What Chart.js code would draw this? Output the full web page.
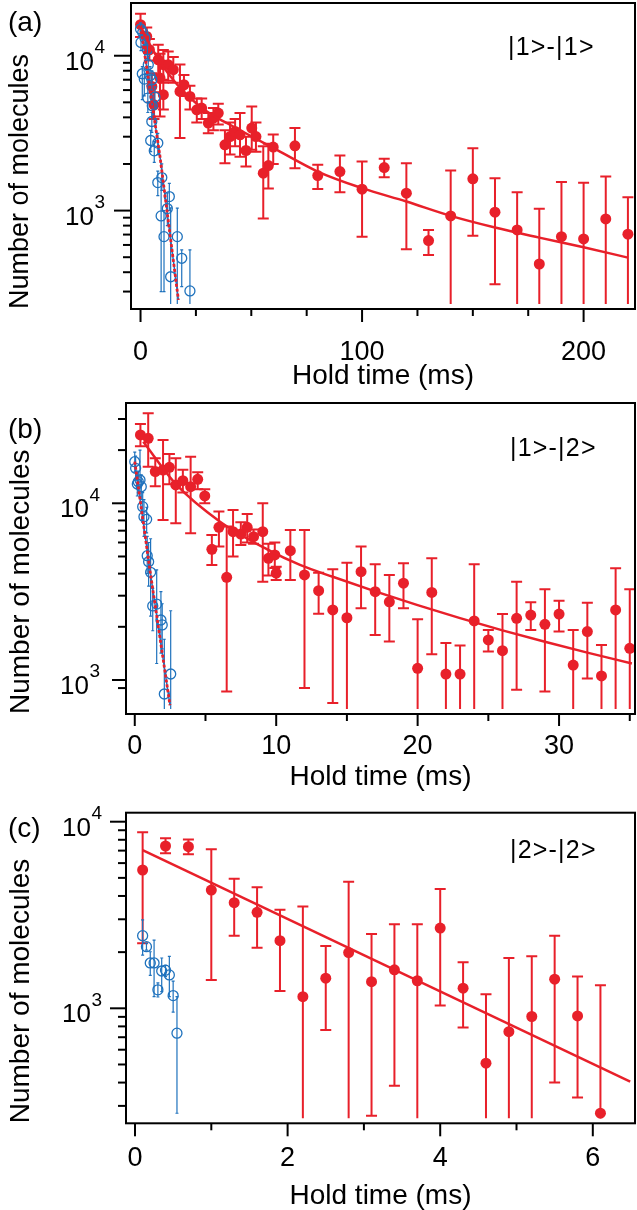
<!DOCTYPE html>
<html><head><meta charset="utf-8">
<script src="https://cdn.jsdelivr.net/npm/chart.js@4.4.1/dist/chart.umd.min.js"></script>
<style>
html,body{margin:0;padding:0;background:#fff;width:637px;height:1210px;overflow:hidden;}
.wrap{position:absolute;left:0;width:637px;}
canvas{display:block;}
.lbl{position:absolute;font-family:"Liberation Sans",Arial,Helvetica,sans-serif;color:#000;white-space:nowrap;line-height:1;}
.pl{font-size:28px;}
.st{font-size:25px;letter-spacing:1.2px;}
</style></head><body>
<div class="wrap" style="top:0;height:400px"><canvas id="ca" width="637" height="400"></canvas></div>
<div class="wrap" style="top:390px;height:405px"><canvas id="cb" width="637" height="405"></canvas></div>
<div class="wrap" style="top:795px;height:415px"><canvas id="cc" width="637" height="415"></canvas></div>
<div class="lbl pl" style="left:8px;top:8px">(a)</div>
<div class="lbl pl" style="left:8px;top:415px">(b)</div>
<div class="lbl pl" style="left:8px;top:814px">(c)</div>
<div class="lbl st" style="left:508px;top:34px">|1&gt;-|1&gt;</div>
<div class="lbl st" style="left:510px;top:435px">|1&gt;-|2&gt;</div>
<div class="lbl st" style="left:510px;top:837px">|2&gt;-|2&gt;</div>
<script>
// ---------------- DATA ----------------
// Panel (a) |1>-|1>
const aRedX  = [0,2.8,4.0,5.1,6.1,8.0,8.8,10.3,10.3,12.5,14.8,17.8,19.6,22.3,25.4,27.6,30.6,32.9,35.1,38.1,40.4,42.7,44.9,47.6,50.2,52.1,55.4,57.7,59.9,69.7,80,90,100,110,120,130,140,150,160,170,180,190,200,210,220];
const aRedY  = [15865,13330,10930,6330,4820,9420,7175,8750,5600,8750,8120,5880,6495,5455,4477,4592,3672,3957,4263,2660,3007,3241,3085,2443,3409,3007,1745,1954,2570,2620,1683,1787,1375,1897,1296,640,924,1603,977,750,452,679,656,884,704];
const aRedLo = [13200,11500,9300,5000,3900,7500,4055,7000,4500,6900,6700,2940,5500,4500,3700,3900,3160,3300,3600,2020,2300,2600,2230,1929,2470,2400,890,1390,2000,1880,1380,1315,679,1644,563,517,null,689,334,null,null,null,null,null,null];
const aRedHi = [18690,15200,12800,7700,5800,11780,10300,10880,6700,10660,9800,8790,7500,6400,5300,5300,4260,4600,4900,3300,3700,3900,4263,3000,4700,3700,2600,2700,3100,3416,1975,2268,2075,2160,2025,750,1815,2530,1620,1315,1026,1527,1510,1660,1221];
const aBlueX  = [0,0.2,0.8,1.0,1.7,2.0,3.1,3.3,3.5,4.3,4.6,5.1,5.1,5.3,6.2,6.5,7.8,7.8,9.3,9.6,10.6,12.1,13.0,13.6,16.6,18.6,22.3];
const aBlueY  = [14880,12190,7648,14140,7068,13010,10930,5330,8745,7425,2835,6997,3761,4750,2432,5408,2727,1517,924,1634,679,1030,1232,374,679,492,303];
const aBlueLo = [13500,10800,5200,12800,5500,11800,9600,4300,7600,6400,2400,6000,3200,4000,2050,4600,2300,1250,300,1350,300,800,1000,null,null,323,null];
const aBlueHi = [16300,13600,8500,15500,8000,14300,12200,6400,9900,8500,3300,8000,4300,5500,2800,6300,3150,1800,1580,2000,1000,1300,1500,1040,1036,557,557];
const aFitX = [0,5,10,15,20,25,30,35,41.9,50,59.9,80,100,120,140,160,180,200,220];
const aFitY = [15490,11220,8610,6920,5750,4955,4365,3936,3491,3020,2541,1786,1396,1144,924,777,669,580,497];
const aDotX = [0,8.8,17.1];
const aDotY = [15500,2230,265];
const aXMajor = [0,100,200];
const aXMinor = [25,50,75,125,150,175];
const aYMajor = [1000,10000];
const aYMinor = [300,400,500,600,700,800,900,2000,3000,4000,5000,6000,7000,8000,9000];

// Panel (b) |1>-|2>
const bRedX  = [0.4,0.95,1.45,2.0,2.45,2.9,3.4,3.95,4.45,4.95,5.45,5.95,6.5,6.95,7.5,7.95,8.4,9.05,9.45,9.9,10.0,11,12,13,14,15,16,17,18,19,20,21,22,23,24,25,26,27,28,29,30,31,32,33,34,35];
const bRedY  = [24360,23330,15110,15430,15990,12700,13420,12420,13670,11000,5490,7310,3810,6910,6700,7310,6470,6910,4880,5100,4020,5390,3930,3200,2490,2250,4100,3160,2770,3530,1165,3130,1080,1080,2160,1685,1466,2235,2330,2065,2360,1215,1880,1054,2490,1510];
const bRedLo = [21000,16100,12500,8050,12800,7700,11500,6770,12000,10000,4480,5700,860,5000,5800,6000,5900,3600,3900,4300,3680,3680,900,2370,740,null,2550,1800,1650,2550,null,1400,null,null,null,1450,null,880,1920,860,1880,null,1020,null,null,null];
const bRedHi = [28100,32300,18000,22800,19000,17970,15500,18350,15000,12000,6620,9000,7380,9170,7800,8700,7100,10000,5900,6000,4380,7070,7070,4050,4230,4610,5690,4520,3930,4580,2210,4890,1620,1570,4520,1920,2360,3600,2750,3265,2810,1920,2740,1580,4290,3265];
const bBlueX  = [0,0.06,0.18,0.25,0.37,0.46,0.56,0.65,0.84,0.88,0.98,1.12,1.27,1.55,1.85,1.94,2.09,2.54];
const bBlueY  = [17190,15780,12860,13250,13550,12420,9570,8400,8110,5050,4670,4070,2625,2690,2185,2050,833,1081];
const bBlueLo = [15000,13500,11000,11500,10900,10500,7800,6500,6800,4000,3400,2300,1900,1240,1420,1500,null,null];
const bBlueHi = [19500,18500,15000,15200,20000,14500,11500,10500,9500,6500,6000,6300,3300,4200,3160,2700,1700,2466];
const bFitX = [0.6,2.96,6.03,9.33,11.68,14,17,20,23,26,29,32,35.15];
const bFitY = [22300,12700,7870,5500,4480,3837,3174,2652,2239,1910,1646,1429,1241];
const bDotX = [0,1.07,2.49];
const bDotY = [17200,4200,720];
const bXMajor = [0,10,20,30];
const bXMinor = [5,15,25,35];
const bYMajor = [1000,10000];
const bYMinor = [900,2000,3000,4000,5000,6000,7000,8000,9000,20000,30000];

// Panel (c) |2>-|2>
const cRedX  = [0.1,0.4,0.7,1.0,1.3,1.6,1.9,2.2,2.5,2.8,3.1,3.4,3.7,4.0,4.3,4.6,4.9,5.2,5.5,5.8,6.1];
const cRedY  = [5510,7410,7350,4300,3680,3270,2305,1155,1450,1990,1390,1607,1405,2690,1282,508,750,904,1432,910,274];
const cRedLo = [2230,6770,6700,1420,2450,2110,1240,null,766,null,266,385,null,1035,790,null,null,null,400,333,null];
const cRedHi = [8770,8150,8040,7110,4950,4450,3370,3510,2160,4770,2500,2820,2820,4360,1765,1190,1860,1900,2450,1480,1330];
const cBlueX  = [0.1,0.15,0.2,0.25,0.3,0.35,0.4,0.45,0.5,0.55];
const cBlueY  = [2450,2140,1750,1750,1256,1585,1600,1510,1170,736];
const cBlueLo = [1930,2050,1500,1155,1150,1230,1480,1155,955,274];
const cBlueHi = [2980,2230,2010,2320,1370,1860,1700,1900,1400,1155];
const cFitX = [0.1,6.49];
const cFitY = [7050,405];
const cXMajor = [0,2,4,6];
const cXMinor = [1,3,5];
const cYMajor = [1000,10000];
const cYMinor = [300,400,500,600,700,800,900,2000,3000,4000,5000,6000,7000,8000,9000];

// y tick labels: base and exponent
const yLabelBase = {1000: '10', 10000: '10'};
const yLabelExp  = {1000: '3', 10000: '4'};

// ---------------- STYLE ----------------
const RED = '#e8202a';
const BLUE = '#1f72bd';
const FONT = "'Liberation Sans', Arial, Helvetica, sans-serif";
Chart.defaults.font.family = FONT;
Chart.defaults.color = '#000';

const pts = (xs, ys) => xs.map((x, i) => ({x: x, y: ys[i]}));

const decor = {
  id: 'decor',
  beforeDatasetDraw(chart, args) {
    const ds = chart.data.datasets[args.index];
    if (!ds.errLo) return;
    const ctx = chart.ctx, a = chart.chartArea;
    const xs = chart.scales.x, ys = chart.scales.y;
    const lim = a.bottom - 5;
    ctx.save();
    ctx.strokeStyle = ds.errColor;
    ctx.lineWidth = ds.errWidth;
    ds.data.forEach((p, i) => {
      const px = xs.getPixelForValue(p.x);
      const lo = ds.errLo[i], hi = ds.errHi[i];
      let yl = lo == null ? lim : ys.getPixelForValue(lo);
      let yh = hi == null ? a.top : ys.getPixelForValue(hi);
      const capL = lo != null && yl <= lim;
      const capH = hi != null && yh >= a.top;
      yl = Math.min(yl, lim); yh = Math.max(yh, a.top);
      const c = ds.capHalf;
      ctx.beginPath();
      ctx.moveTo(px, yl); ctx.lineTo(px, yh);
      if (capL) { ctx.moveTo(px - c, yl); ctx.lineTo(px + c, yl); }
      if (capH) { ctx.moveTo(px - c, yh); ctx.lineTo(px + c, yh); }
      ctx.stroke();
    });
    ctx.restore();
  },
  afterDraw(chart) {
    const o = chart.options.plugins.decor;
    const ctx = chart.ctx, a = chart.chartArea;
    const xs = chart.scales.x, ys = chart.scales.y;
    ctx.save();
    ctx.strokeStyle = '#000';
    ctx.lineWidth = 2;
    ctx.strokeRect(a.left, a.top, a.right - a.left, a.bottom - a.top);
    const yt = o.yMajor.map(v => [v, o.yMajLen]).concat(o.yMinor.map(v => [v, o.yMinLen]));
    yt.forEach(([v, len]) => {
      const p = ys.getPixelForValue(v);
      if (p < a.top - 0.5 || p > a.bottom + 0.5) return;
      ctx.beginPath(); ctx.moveTo(a.left, p); ctx.lineTo(a.left - len, p); ctx.stroke();
    });
    const xt = o.xMajor.map(v => [v, o.xMajLen]).concat(o.xMinor.map(v => [v, o.xMinLen]));
    xt.forEach(([v, len]) => {
      const p = xs.getPixelForValue(v);
      if (p < a.left - 0.5 || p > a.right + 0.5) return;
      ctx.beginPath(); ctx.moveTo(p, a.bottom); ctx.lineTo(p, a.bottom + len); ctx.stroke();
    });
    // y tick labels with superscript exponent, placed through the y scale
    ctx.fillStyle = '#000';
    ctx.textBaseline = 'alphabetic';
    o.yMajor.forEach(v => {
      const p = ys.getPixelForValue(v);
      const right = a.left - o.yPad;
      ctx.font = '19px ' + FONT;
      ctx.textAlign = 'right';
      const ew = ctx.measureText(yLabelExp[v]).width;
      ctx.fillText(yLabelExp[v], right, p + 14 - 16.5);
      ctx.font = '26px ' + FONT;
      ctx.fillText(yLabelBase[v], right - ew - 0.5, p + 14);
    });
    ctx.restore();
  }
};

function makeChart(id, P) {
  const datasets = [];
  P.lines.forEach(l => datasets.push({
    type: 'line', data: l.data, borderColor: l.color, borderWidth: l.width,
    borderDash: l.dash || [], pointRadius: 0, fill: false,
    cubicInterpolationMode: l.smooth ? 'monotone' : 'default', tension: 0
  }));
  if (P.blue) datasets.push({
    type: 'scatter', data: P.blue.data, errLo: P.blue.lo, errHi: P.blue.hi,
    errColor: BLUE, errWidth: 1.2, capHalf: 1.5,
    pointRadius: 5, pointBackgroundColor: 'rgba(0,0,0,0)', pointBorderColor: BLUE, pointBorderWidth: 1.3
  });
  datasets.push({
    type: 'scatter', data: P.red.data, errLo: P.red.lo, errHi: P.red.hi,
    errColor: RED, errWidth: 2, capHalf: 5.5,
    pointRadius: 5.5, pointBackgroundColor: RED, pointBorderColor: RED, pointBorderWidth: 0
  });
  return new Chart(document.getElementById(id), {
    type: 'scatter',
    data: {datasets},
    options: {
      responsive: false, animation: false, events: [],
      layout: {autoPadding: false, padding: {left: 0, top: P.top, right: 637 - P.right, bottom: 0}},
      plugins: {
        legend: {display: false}, tooltip: {enabled: false},
        decor: {xMajor: P.xMajor, xMinor: P.xMinor, yMajor: P.yMajor, yMinor: P.yMinor,
                xMajLen: P.xMajLen, xMinLen: 7, yMajLen: P.yMajLen, yMinLen: 8, yPad: P.yPad}
      },
      scales: {
        x: {
          type: 'linear', min: P.xMin, max: P.xMax, bounds: 'data',
          grid: {display: false, drawTicks: false}, border: {display: false},
          ticks: {autoSkip: false, maxRotation: 0, padding: P.xPad, color: '#000',
                  font: {size: 27, lineHeight: 1}, callback: v => String(v)},
          afterBuildTicks: s => { s.ticks = P.xMajor.map(v => ({value: v})); },
          afterFit: s => { s.height = P.H - P.bottom; s.paddingLeft = 0; s.paddingRight = 0; },
          title: {display: true, text: 'Hold time (ms)', color: '#000',
                  font: {size: 28, lineHeight: 1}, padding: {top: 0, bottom: P.xTitlePad}}
        },
        y: {
          type: 'logarithmic', min: P.yMin, max: P.yMax, bounds: 'data',
          grid: {display: false, drawTicks: false}, border: {display: false},
          ticks: {display: false, autoSkip: false},
          afterBuildTicks: s => { s.ticks = P.yMajor.map(v => ({value: v})); },
          afterFit: s => { s.width = P.left; s.paddingTop = 0; s.paddingBottom = 0; },
          title: {display: true, text: 'Number of molecules', align: 'start', color: '#000',
                  font: {size: P.yTitleSize, lineHeight: 1}, padding: {top: 7, bottom: 0}}
        }
      }
    },
    plugins: [decor]
  });
}

makeChart('ca', {
  H: 400, top: 3, bottom: 309, left: 131, right: 635,
  xMin: -4.3, xMax: 223.2, yMin: 231.5, yMax: 21900,
  xPad: 30, yPad: 26, xTitlePad: 10, xMajLen: 13, yMajLen: 17, yTitleSize: 27,
  xMajor: aXMajor, xMinor: aXMinor, yMajor: aYMajor, yMinor: aYMinor,
  lines: [
    {data: pts(aFitX, aFitY), color: RED, width: 2.5, smooth: true},
    {data: pts(aDotX, aDotY), color: RED, width: 2.8, dash: [3, 2]},
    {data: pts(aDotX, aDotY), color: BLUE, width: 1.5}
  ],
  blue: {data: pts(aBlueX, aBlueY), lo: aBlueLo, hi: aBlueHi},
  red: {data: pts(aRedX, aRedY), lo: aRedLo, hi: aRedHi}
});

makeChart('cb', {
  H: 405, top: 13, bottom: 324, left: 126, right: 635,
  xMin: -0.62, xMax: 35.37, yMin: 642, yMax: 36950,
  xPad: 19, yPad: 26, xTitlePad: 4, xMajLen: 12, yMajLen: 14, yTitleSize: 28,
  xMajor: bXMajor, xMinor: bXMinor, yMajor: bYMajor, yMinor: bYMinor,
  lines: [
    {data: pts(bFitX, bFitY), color: RED, width: 2.5, smooth: true},
    {data: pts(bDotX, bDotY), color: RED, width: 2.8, dash: [3, 2]},
    {data: pts(bDotX, bDotY), color: BLUE, width: 1.5}
  ],
  blue: {data: pts(bBlueX, bBlueY), lo: bBlueLo, hi: bBlueHi},
  red: {data: pts(bRedX, bRedY), lo: bRedLo, hi: bRedHi}
});

makeChart('cc', {
  H: 415, top: 17.7, bottom: 328.3, left: 126, right: 635,
  xMin: -0.118, xMax: 6.553, yMin: 242, yMax: 11175,
  xPad: 22, yPad: 24, xTitlePad: 0, xMajLen: 13, yMajLen: 16, yTitleSize: 28,
  xMajor: cXMajor, xMinor: cXMinor, yMajor: cYMajor, yMinor: cYMinor,
  lines: [
    {data: pts(cFitX, cFitY), color: RED, width: 2.5}
  ],
  blue: {data: pts(cBlueX, cBlueY), lo: cBlueLo, hi: cBlueHi},
  red: {data: pts(cRedX, cRedY), lo: cRedLo, hi: cRedHi}
});
</script>
</body></html>
